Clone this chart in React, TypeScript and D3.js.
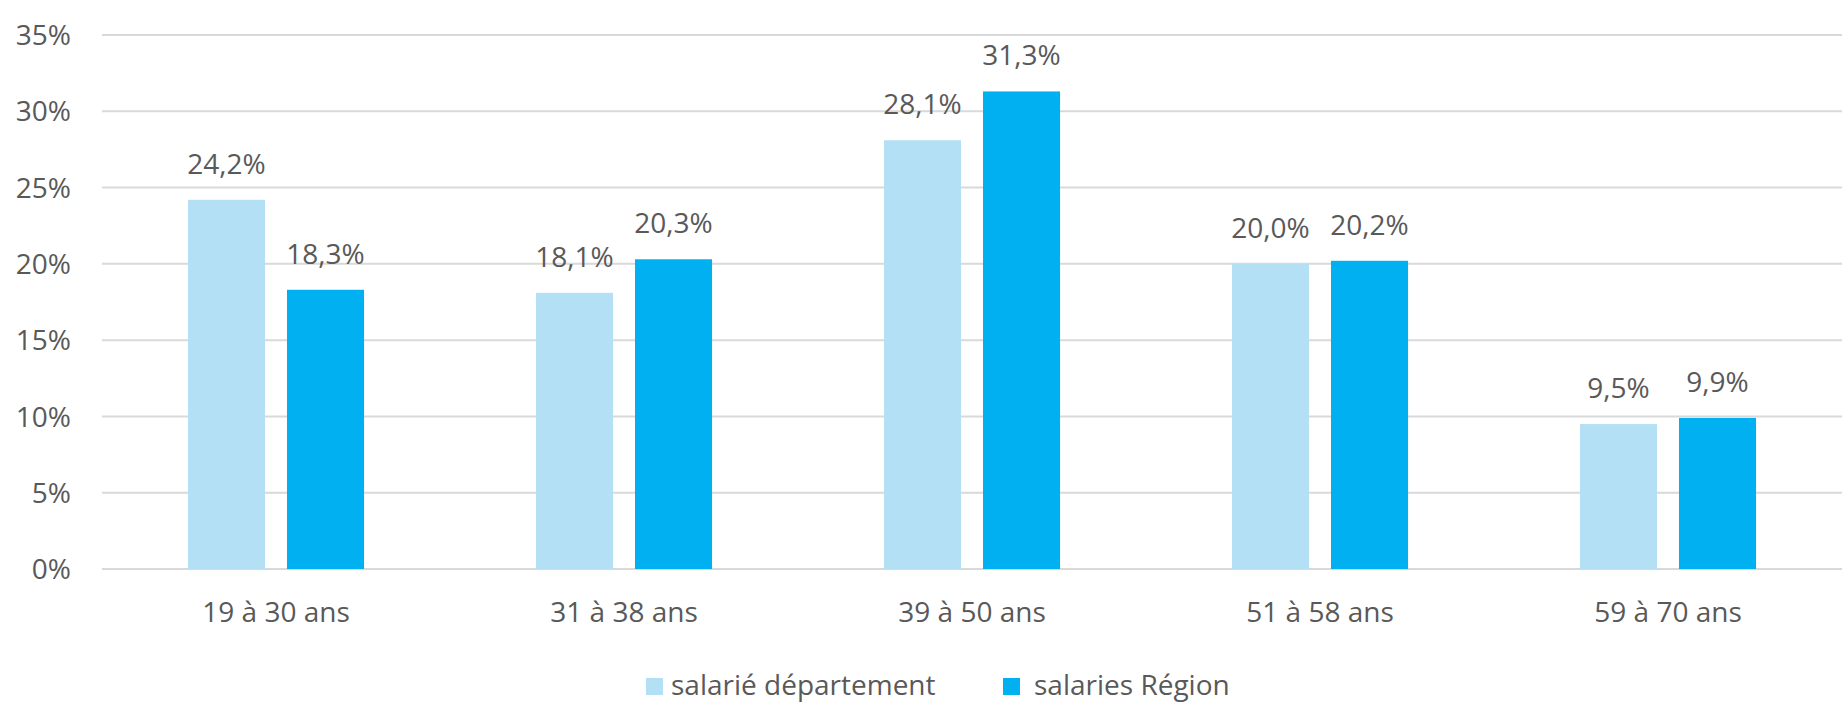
import { useEffect, useRef } from "react";
import * as d3 from "d3";

// data
const categories = ["19 à 30 ans", "31 à 38 ans", "39 à 50 ans", "51 à 58 ans", "59 à 70 ans"];
const seriesNames = ["salarié département", "salaries Région"];
const departement = [24.2, 18.1, 28.1, 20.0, 9.5];
const region = [18.3, 20.3, 31.3, 20.2, 9.9];
const yTicks = [0, 5, 10, 15, 20, 25, 30, 35];
const colors = ["#b4e0f5", "#00b0f0"];

const width = 1843;
const height = 714;
const margin = { top: 35, right: 1, bottom: 145, left: 102 };
const font = "'Open Sans', sans-serif";
const textColor = "#595959";

function App() {
  const ref = useRef<SVGSVGElement | null>(null);

  useEffect(() => {
    const svg = d3.select(ref.current);
    svg.selectAll("*").remove();

    const innerWidth = width - margin.left - margin.right;
    const innerHeight = height - margin.top - margin.bottom;

    const x0 = d3.scaleBand<string>().domain(categories).range([0, innerWidth]).padding(0);
    const bw = x0.bandwidth();
    // the pair of bars takes about half the band, with a small gap between them
    const x1 = d3
      .scaleBand<string>()
      .domain(seriesNames)
      .range([bw * 0.247, bw * 0.753])
      .paddingInner(0.222)
      .paddingOuter(0);
    const y = d3.scaleLinear().domain([0, 35]).range([innerHeight, 0]);

    const g = svg.append("g").attr("transform", `translate(${margin.left},${margin.top})`);

    // gridlines
    g.selectAll("line.grid")
      .data(yTicks)
      .join("line")
      .attr("class", "grid")
      .attr("x1", 0)
      .attr("x2", innerWidth)
      .attr("y1", (d) => y(d))
      .attr("y2", (d) => y(d))
      .attr("stroke", "#d9d9d9")
      .attr("stroke-width", 2);

    // y labels
    g.selectAll("text.ytick")
      .data(yTicks)
      .join("text")
      .attr("class", "ytick")
      .attr("x", -31)
      .attr("y", (d) => y(d))
      .attr("dy", "0.36em")
      .attr("text-anchor", "end")
      .attr("font-family", font)
      .attr("font-size", 28)
      .attr("fill", textColor)
      .text((d) => `${d}%`);

    const rows = categories.map((c, i) => ({
      cat: c,
      vals: [
        { s: seriesNames[0], v: departement[i], color: colors[0] },
        { s: seriesNames[1], v: region[i], color: colors[1] },
      ],
    }));

    const groups = g
      .selectAll("g.cat")
      .data(rows)
      .join("g")
      .attr("class", "cat")
      .attr("transform", (d) => `translate(${x0(d.cat)},0)`);

    groups
      .selectAll("rect")
      .data((d) => d.vals)
      .join("rect")
      .attr("x", (d) => x1(d.s)!)
      .attr("width", x1.bandwidth())
      .attr("y", (d) => y(d.v))
      .attr("height", (d) => innerHeight - y(d.v))
      .attr("fill", (d) => d.color);

    // value labels
    groups
      .selectAll("text.val")
      .data((d) => d.vals)
      .join("text")
      .attr("class", "val")
      .attr("x", (d) => x1(d.s)! + x1.bandwidth() / 2)
      .attr("y", (d) => y(d.v) - 26)
      .attr("text-anchor", "middle")
      .attr("font-family", font)
      .attr("font-size", 28)
      .attr("fill", textColor)
      .text((d) => d.v.toFixed(1).replace(".", ",") + "%");

    // category labels
    g.selectAll("text.cat")
      .data(categories)
      .join("text")
      .attr("class", "cat")
      .attr("x", (d) => x0(d)! + bw / 2)
      .attr("y", innerHeight + 53)
      .attr("text-anchor", "middle")
      .attr("font-family", font)
      .attr("font-size", 28)
      .attr("fill", textColor)
      .text((d) => d);

    // legend
    const legendX = [646, 1003];
    const legend = svg
      .append("g")
      .selectAll("g")
      .data(seriesNames)
      .join("g")
      .attr("transform", (_, i) => `translate(${legendX[i]},678)`);
    legend
      .append("rect")
      .attr("width", 17)
      .attr("height", 17)
      .attr("fill", (_, i) => colors[i]);
    legend
      .append("text")
      .attr("x", (_, i) => (i === 0 ? 25 : 31))
      .attr("y", 17)
      .attr("font-family", font)
      .attr("font-size", 28)
      .attr("fill", textColor)
      .text((d) => d);
  }, []);

  return (
    <svg
      ref={ref}
      width={width}
      height={height}
      style={{ position: "absolute", left: 0, top: 0, background: "#fff" }}
    />
  );
}

export default App;
